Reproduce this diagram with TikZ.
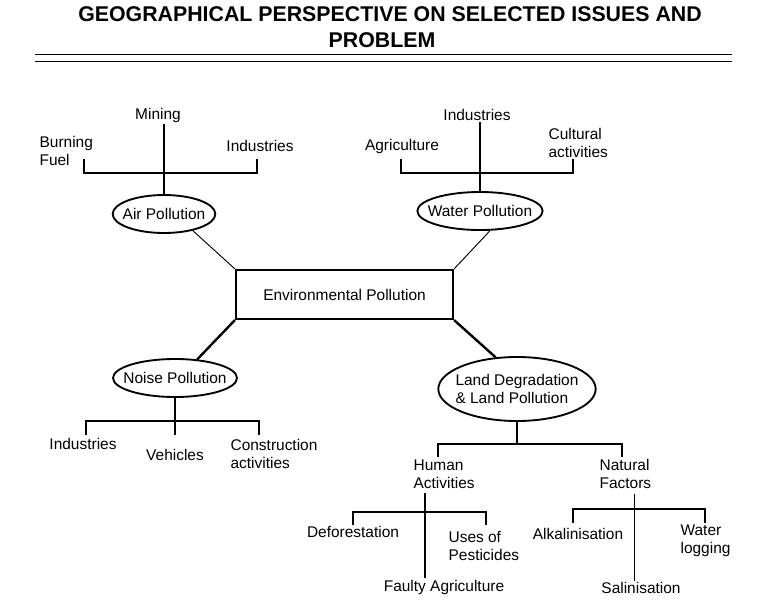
\documentclass[tikz,border=0pt]{standalone}
\usepackage{fontspec}
\setmainfont{Liberation Sans}
\usetikzlibrary{positioning,shapes.geometric}

\tikzset{
  txt/.style={inner sep=1pt, align=left, font=\fontsize{11.6}{13.2}\selectfont},
  bubble/.style={draw, ellipse, line width=1.4pt, inner xsep=-8pt, inner ysep=0pt, align=left, font=\fontsize{11.6}{13.2}\selectfont},
  frame/.style={draw, line width=1.4pt, minimum width=163pt, minimum height=37pt},
  heading/.style={font=\fontsize{16}{19}\selectfont\bfseries},
  bar/.style={line width=1.4pt},
  link/.style={line width=0.7pt},
  heavy/.style={line width=1.8pt}
}

\begin{document}
\begin{tikzpicture}[x=0.75pt, y=-0.75pt]
  \useasboundingbox (0,0) rectangle (779,604);
  % title and double rule
  \node[heading] (t1) at (390,14) {GEOGRAPHICAL PERSPECTIVE ON SELECTED ISSUES AND};
  \node[heading] (t2) at (382,40) {PROBLEM};
  \draw[line width=0.7pt] (35,54) -- (732,54);
  \draw[line width=0.7pt] (35,61) -- (732,61);

  % centre and the four kinds
  \node[frame, txt] (env) at (344.5,294.5) {Environmental Pollution};
  \node[bubble, minimum width=77pt, minimum height=28.5pt] (air) at (164,214) {Air Pollution};
  \node[bubble, minimum width=94pt, minimum height=28.5pt] (water) at (480,211) {Water Pollution};
  \node[bubble, minimum width=93pt, minimum height=28.5pt] (noise) at (175,378) {Noise Pollution};
  \node[bubble, minimum width=118pt, minimum height=48pt] (land) at (517,389) {Land Degradation\\\& Land Pollution};
  \draw[link] (air.-30) -- (env.north west);
  \draw[link] (water.-63) -- (env.north east);
  \draw[heavy] (env.south west) -- (noise.40);
  \draw[heavy] (env.south east) -- (land.124);

  % air
  \node[txt] (mining) at (158,115) {Mining};
  \node[txt, anchor=west] (fuel) at (38,151) {Burning\\Fuel};
  \node[txt] (aind) at (260,146) {Industries};
  \coordinate (a1) at (84,159);
  \coordinate (a2) at (257,159);
  \draw[bar] (a1) -- ++(0,14) -| (a2);
  \draw[bar] (air.north) -- (air.north |- mining.south);

  % water
  \node[txt] (wind) at (477,115) {Industries};
  \node[txt] (agri) at (402,146) {Agriculture};
  \node[txt, anchor=west] (cult) at (547,143) {Cultural\\activities};
  \coordinate (w1) at (401,159);
  \coordinate (w2) at (573,159);
  \draw[bar] (w1) -- ++(0,14) -| (w2);
  \draw[bar] (water.north) -- (water.north |- wind.south);

  % noise
  \node[txt] (nind) at (83,444) {Industries};
  \node[txt] (veh) at (175,455) {Vehicles};
  \node[txt, anchor=west] (cons) at (229,454) {Construction\\activities};
  \coordinate (n1) at (86,435);
  \coordinate (n2) at (259,435);
  \draw[bar] (n1) -- ++(0,-14) -| (n2);
  \draw[bar] (noise.south) -- (noise.south |- n1);

  % land
  \node[txt, anchor=west] (human) at (412,474) {Human\\Activities};
  \node[txt, anchor=west] (natural) at (598,474) {Natural\\Factors};
  \coordinate (l1) at (438,457);
  \coordinate (l2) at (622,457);
  \draw[bar] (l1) -- ++(0,-13) coordinate (lb) -| (l2);
  \draw[bar] (land.south) -- (land.south |- lb);

  % human activities
  \node[txt] (defor) at (353,532) {Deforestation};
  \node[txt, anchor=west] (pest) at (447,546) {Uses of\\Pesticides};
  \node[txt] (faulty) at (444,587) {Faulty Agriculture};
  \coordinate (h1) at (353,525);
  \coordinate (h2) at (486,525);
  \draw[bar] (h1) -- ++(0,-13) -| (h2);
  \coordinate (hv) at (425,493);
  \draw[bar] (hv) -- (hv |- faulty.north);

  % natural factors
  \node[txt] (alk) at (578,534) {Alkalinisation};
  \node[txt, anchor=west] (wlog) at (679,541) {Water\\logging};
  \node[txt] (salin) at (641,588) {Salinisation};
  \coordinate (f1) at (573,523);
  \coordinate (f2) at (705,523);
  \draw[bar] (f1) -- ++(0,-14) -| (f2);
  \coordinate (fv) at (634,494);
  \draw[link] (fv) -- (fv |- salin.north);
\end{tikzpicture}
\end{document}
